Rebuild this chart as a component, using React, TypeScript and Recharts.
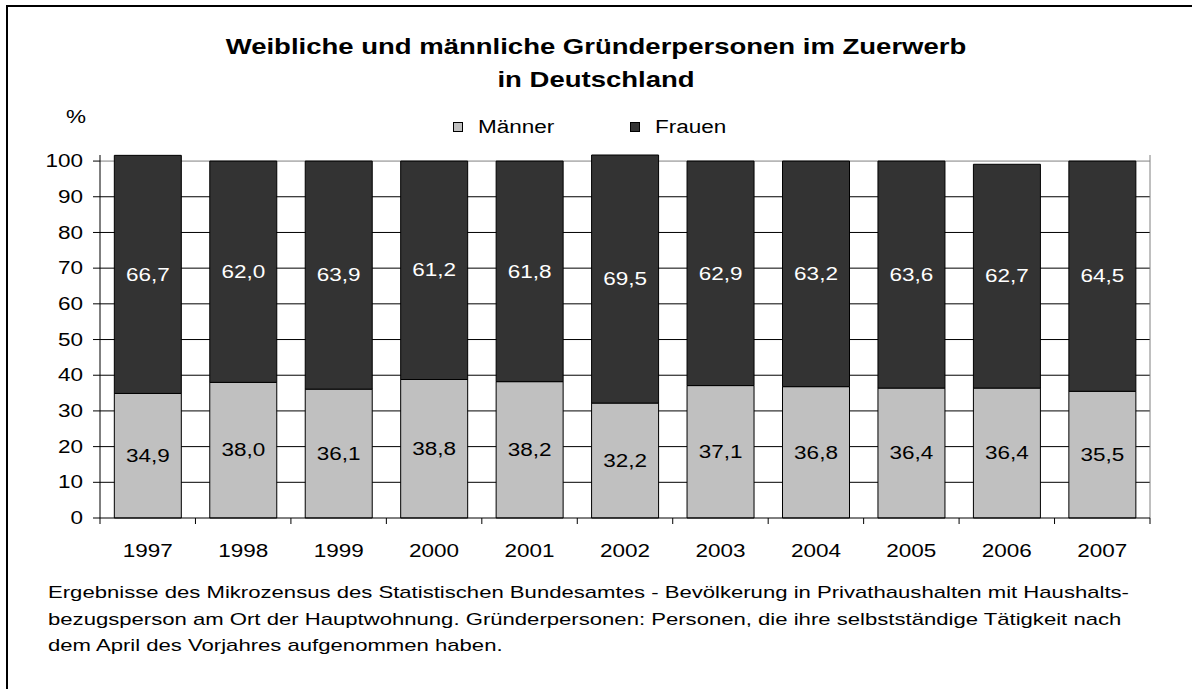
import { BarChart, Bar, XAxis, YAxis, CartesianGrid, LabelList } from 'recharts';

const years = ['1997', '1998', '1999', '2000', '2001', '2002', '2003', '2004', '2005', '2006', '2007'];
const maenner = [34.9, 38.0, 36.1, 38.8, 38.2, 32.2, 37.1, 36.8, 36.4, 36.4, 35.5];
const frauen = [66.7, 62.0, 63.9, 61.2, 61.8, 69.5, 62.9, 63.2, 63.6, 62.7, 64.5];
const yTicks = [0, 10, 20, 30, 40, 50, 60, 70, 80, 90, 100];
const gridValues = [10, 20, 30, 40, 50, 60, 70, 80, 90];

const data = years.map((year, i) => ({ year, maenner: maenner[i], frauen: frauen[i] }));
const maxTotal = Math.max(...data.map(d => d.maenner + d.frauen));

const FONT = '"Liberation Sans", Arial, sans-serif';
const SX = 1.25; // the original text is drawn a bit wider than normal Arial
const CHART_W = 1192;
const CHART_H = 600;
const MARGIN = { top: 155, right: 42, bottom: 42, left: 40 };
const Y_WIDTH = 60;
const halfBand = (CHART_W - MARGIN.left - Y_WIDTH - MARGIN.right) / years.length / 2;

const fmt = (v: any) => Number(v).toFixed(1).replace('.', ',');

function WideText({ x, y, anchor = 'middle', fill = '#000', children }: any) {
    return (
        <text
            transform={`translate(${x},${y}) scale(${SX},1)`}
            x={0}
            y={0}
            textAnchor={anchor}
            dominantBaseline="central"
            fontSize={18}
            fontFamily={FONT}
            fill={fill}
        >
            {children}
        </text>
    );
}

function YearTick({ x, y, payload, index }: any) {
    return (
        <g>
            <line x1={x - halfBand} x2={x - halfBand} y1={y} y2={y + 6} stroke="#000" />
            {index === years.length - 1 && (
                <line x1={x + halfBand} x2={x + halfBand} y1={y} y2={y + 6} stroke="#000" />
            )}
            <WideText x={x} y={y + 33}>{payload.value}</WideText>
        </g>
    );
}

function ValueTick({ x, y, payload }: any) {
    return <WideText x={x} y={y} anchor="end">{payload.value}</WideText>;
}

const barLabel = (fill: string) => (props: any) => {
    const { x, y, width, height, value } = props;
    return <WideText x={x + width / 2} y={y + height / 2} fill={fill}>{fmt(value)}</WideText>;
};

const wide = (origin: string, s = SX): any => ({ transform: `scaleX(${s})`, transformOrigin: origin });

export default function App() {
    return (
        <div style={{ position: 'absolute', left: 0, top: 0, width: 1192, height: 689, overflow: 'hidden', background: '#fff', fontFamily: FONT }}>
            <div style={{ position: 'absolute', left: 6, top: 5, width: 1250, height: 750, borderLeft: '2px solid #000', borderTop: '2px solid #000' }} />
            <div style={{ position: 'absolute', left: 0, top: 30, width: 1192, textAlign: 'center', fontWeight: 'bold', fontSize: 22, lineHeight: '33px', ...wide('center') }}>
                Weibliche und männliche Gründerpersonen im Zuerwerb
                <br />
                in Deutschland
            </div>
            <div style={{ position: 'absolute', left: 66, top: 108, fontSize: 18, lineHeight: '18px', ...wide('left') }}>%</div>
            <div style={{ position: 'absolute', left: 453, top: 122, width: 10, height: 10, background: '#c0c0c0', border: '1px solid #000', boxSizing: 'border-box' }} />
            <div style={{ position: 'absolute', left: 478, top: 118, fontSize: 18, lineHeight: '18px', ...wide('left') }}>Männer</div>
            <div style={{ position: 'absolute', left: 630, top: 122, width: 10, height: 10, background: '#333333', border: '1px solid #000', boxSizing: 'border-box' }} />
            <div style={{ position: 'absolute', left: 655, top: 118, fontSize: 18, lineHeight: '18px', ...wide('left') }}>Frauen</div>
            <div style={{ position: 'absolute', left: 0, top: 0 }}>
                <BarChart width={CHART_W} height={CHART_H} data={data} margin={MARGIN} barCategoryGap="15%">
                    <CartesianGrid stroke="#000" vertical={false} horizontalValues={gridValues} />
                    <CartesianGrid
                        stroke="#808080"
                        horizontalValues={[100]}
                        verticalCoordinatesGenerator={({ offset }: any) => [offset.left + offset.width]}
                    />
                    <XAxis
                        dataKey="year"
                        height={40}
                        axisLine={{ stroke: '#000' }}
                        tickLine={false}
                        tickSize={0}
                        tickMargin={0}
                        tick={<YearTick />}
                        interval={0}
                    />
                    <YAxis
                        width={Y_WIDTH}
                        type="number"
                        domain={[0, maxTotal]}
                        ticks={yTicks}
                        axisLine={{ stroke: '#000' }}
                        tickLine={{ stroke: '#000' }}
                        tickSize={7}
                        tickMargin={10}
                        tick={<ValueTick />}
                    />
                    <Bar dataKey="maenner" stackId="a" fill="#c0c0c0" stroke="#000" strokeWidth={1} isAnimationActive={false}>
                        <LabelList dataKey="maenner" content={barLabel('#000')} />
                    </Bar>
                    <Bar dataKey="frauen" stackId="a" fill="#333333" stroke="#000" strokeWidth={1} isAnimationActive={false}>
                        <LabelList dataKey="frauen" content={barLabel('#fff')} />
                    </Bar>
                </BarChart>
            </div>
            <div style={{ position: 'absolute', left: 48, top: 580, fontSize: 17, lineHeight: '26.5px', whiteSpace: 'nowrap', ...wide('left', 1.3) }}>
                Ergebnisse des Mikrozensus des Statistischen Bundesamtes - Bevölkerung in Privathaushalten mit Haushalts-
                <br />
                bezugsperson am Ort der Hauptwohnung. Gründerpersonen: Personen, die ihre selbstständige Tätigkeit nach
                <br />
                dem April des Vorjahres aufgenommen haben.
            </div>
        </div>
    );
}
